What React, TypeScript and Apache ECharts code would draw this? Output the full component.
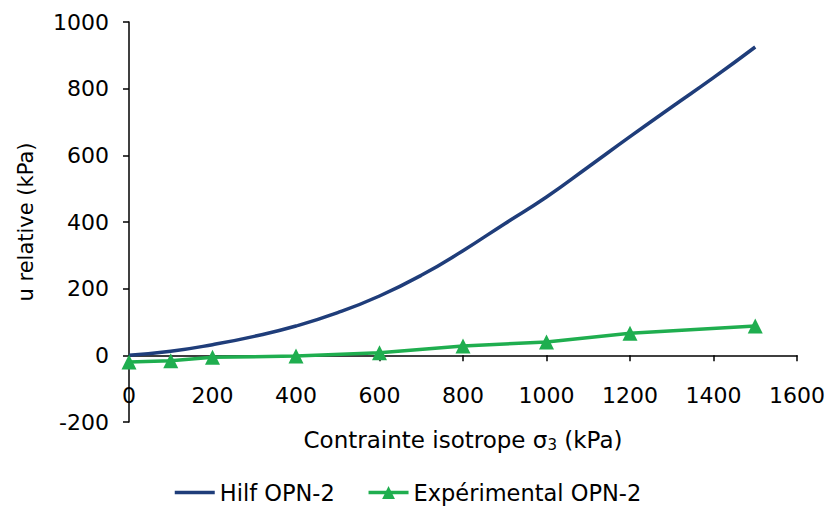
import React, { useEffect, useRef } from "react";
import * as echarts from "echarts";

const hilfX = [0, 100, 200, 300, 400, 500, 600, 700, 800, 900, 1000, 1100, 1200, 1300, 1400, 1500];
const hilfY = [0, 12, 32, 57, 88, 128, 178, 240, 314, 395, 475, 565, 656, 745, 833, 925];
const expX = [0, 100, 200, 400, 600, 800, 1000, 1200, 1500];
const expY = [-20, -16, -6, -2, 8, 28, 40, 66, 88];

const FONT = "'DejaVu Sans', sans-serif";

export default function App() {
  const ref = useRef<HTMLDivElement>(null);
  useEffect(() => {
    const chart = echarts.init(ref.current!, null, { renderer: "svg" });
    chart.setOption({
      animation: false,
      textStyle: { fontFamily: FONT },
      grid: { left: 129, right: 32, top: 22, bottom: 93, containLabel: false, outerBoundsMode: "none" },
      xAxis: {
        type: "value",
        min: 0,
        max: 1600,
        interval: 200,
        axisLine: { onZero: true, lineStyle: { color: "#000", width: 1.5 } },
        axisTick: { show: true, length: 6, lineStyle: { color: "#000", width: 1.5 } },
        axisLabel: { margin: -38, fontSize: 22, color: "#000", fontFamily: FONT, formatter: (v: number) => String(v) },
        splitLine: { show: false },
        name: "{t|Contrainte isotrope σ}{s|3}{t| (kPa)}",
        nameLocation: "middle",
        nameGap: 5,
        nameMoveOverlap: false,
        nameTextStyle: {
          rich: {
            t: { fontSize: 23, color: "#000", fontFamily: FONT },
            s: { fontSize: 15, color: "#000", fontFamily: FONT, padding: [10, 0, 0, 0] },
          },
        },
      },
      yAxis: {
        type: "value",
        min: -200,
        max: 1000,
        interval: 200,
        axisLine: { show: true, onZero: false, lineStyle: { color: "#000", width: 1.5 } },
        axisTick: { show: true, length: 6, lineStyle: { color: "#000", width: 1.5 } },
        axisLabel: { margin: 20, fontSize: 22, color: "#000", fontFamily: FONT, formatter: (v: number) => String(v) },
        splitLine: { show: false },
        name: "u relative (kPa)",
        nameLocation: "middle",
        nameGap: 93,
        nameMoveOverlap: false,
        nameTextStyle: { fontSize: 21, color: "#000", fontFamily: FONT },
      },
      legend: {
        bottom: 6,
        left: 168,
        itemWidth: 40,
        itemHeight: 16,
        itemGap: 32,
        lineStyle: { width: 3.5 },
        textStyle: { fontSize: 22.5, color: "#000", fontFamily: FONT },
        data: [
          { name: "Hilf OPN-2", itemStyle: { opacity: 0 } },
          { name: "Expérimental OPN-2" },
        ],
      },
      series: [
        {
          name: "Hilf OPN-2",
          type: "line",
          smooth: true,
          symbol: "none",
          data: hilfX.map((x, i) => [x, hilfY[i]]),
          lineStyle: { color: "#1f3d7a", width: 3.5 },
          itemStyle: { color: "#1f3d7a" },
        },
        {
          name: "Expérimental OPN-2",
          type: "line",
          symbol: "triangle",
          symbolSize: 15,
          data: expX.map((x, i) => [x, expY[i]]),
          lineStyle: { color: "#1fae4f", width: 3.5 },
          itemStyle: { color: "#1fae4f" },
        },
      ],
    });
    return () => chart.dispose();
  }, []);
  return <div ref={ref} style={{ width: 829, height: 515, position: "absolute", left: 0, top: 0 }} />;
}
